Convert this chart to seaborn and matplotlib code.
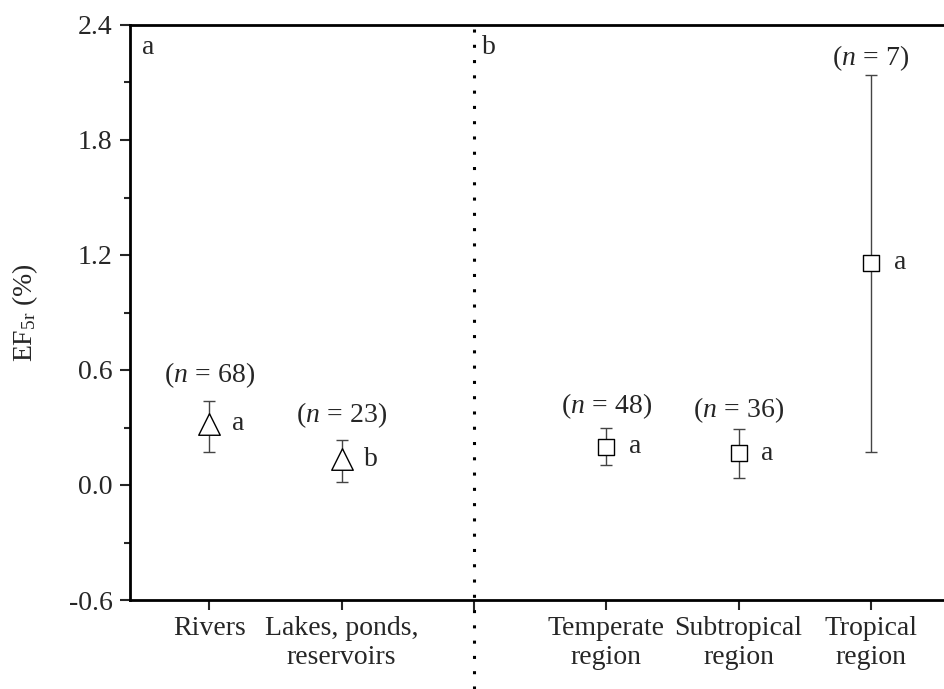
import matplotlib
matplotlib.use("Agg")
import matplotlib.pyplot as plt
import seaborn as sns
import pandas as pd
import numpy as np

# ---- data ----
order = ["Rivers", "Lakes, ponds,\nreservoirs", "",
         "Temperate\nregion", "Subtropical\nregion", "Tropical\nregion"]
categories = ["Rivers", "Lakes, ponds,\nreservoirs",
              "Temperate\nregion", "Subtropical\nregion", "Tropical\nregion"]
groups = ["water", "water", "climate", "climate", "climate"]
means = [0.32, 0.135, 0.20, 0.165, 1.16]
lower = [0.17, 0.015, 0.105, 0.035, 0.17]
upper = [0.44, 0.235, 0.30, 0.29, 2.14]
n_obs = [68, 23, 48, 36, 7]
letters = ["a", "b", "a", "a", "a"]
yticks = [-0.6, 0.0, 0.6, 1.2, 1.8, 2.4]
ytick_labels = ["-0.6", "0.0", "0.6", "1.2", "1.8", "2.4"]

sns.set_style("ticks")
plt.rcParams["font.family"] = ["Liberation Serif", "DejaVu Serif"]
plt.rcParams["mathtext.fontset"] = "custom"
plt.rcParams["mathtext.rm"] = "Liberation Serif"
plt.rcParams["mathtext.it"] = "Liberation Serif:italic"

df = pd.DataFrame({
    "cat": categories,
    "pos": [order.index(c) + 1 for c in categories],
    "group": groups,
    "mean": means,
    "lower": lower,
    "upper": upper,
})

fig = plt.figure(figsize=(9.45, 6.89), dpi=100)
ax = fig.add_axes([130 / 945, 89 / 689, 815 / 945, 575 / 689])

# error bars
yerr = np.array([df["mean"] - df["lower"], df["upper"] - df["mean"]])
ax.errorbar(df["pos"], df["mean"], yerr=yerr, fmt="none", ecolor="#444444",
            elinewidth=1.0, capsize=4.6, capthick=1.0, zorder=2)

# markers
for g, m, ms in [("water", "^", 15.5), ("climate", "s", 12)]:
    sub = df[df["group"] == g]
    sns.scatterplot(x=sub["pos"], y=sub["mean"], marker=m, s=ms ** 2,
                    facecolor="white", edgecolor="black", linewidth=1.0,
                    ax=ax, legend=False, zorder=3)

# annotations
n_offsets = [26, 25, 21, 19, 17]
for i, row in df.iterrows():
    ax.annotate(r"$(\mathit{n}\,=\,%d)$" % n_obs[i], xy=(row["pos"], row["upper"]),
                xytext=(0, n_offsets[i] * 0.72), textcoords="offset points",
                ha="center", va="center", fontsize=20)
    ax.annotate(letters[i], xy=(row["pos"], row["mean"]),
                xytext=(29 * 0.72, 0), textcoords="offset points",
                ha="center", va="center", fontsize=20)

# divider
sep = order.index("") + 1
ax.axvline(sep, ymin=-89 / 575, ymax=1, color="black", lw=2.2,
           linestyle=(0, (1, 4)), clip_on=False, zorder=1)

# panel labels
ax.annotate("a", xy=(0, 1), xycoords="axes fraction", xytext=(9, -7),
            textcoords="offset points", ha="left", va="top", fontsize=20)
ax.annotate("b", xy=(sep, 2.4), xycoords="data", xytext=(6, -7),
            textcoords="offset points", ha="left", va="top", fontsize=20)

ax.set_xlim(0.40, 6.56)
ax.set_ylim(-0.6, 2.4)
ax.set_xticks(range(1, len(order) + 1))
ax.set_xticklabels(order, fontsize=20)
ax.set_yticks(yticks)
ax.set_yticklabels(ytick_labels, fontsize=20)
ax.set_yticks(np.arange(-0.3, 2.4, 0.6), minor=True)
ax.tick_params(axis="y", which="major", length=7.5, width=1.5, direction="out", pad=5)
ax.tick_params(axis="y", which="minor", length=4.5, width=1.5, direction="out")
ax.tick_params(axis="x", which="major", length=7.5, width=1.5, direction="out", pad=4)

ax.set_xlabel("")
ax.set_ylabel(r"EF$_{\mathrm{5r}}$ (%)", fontsize=20)
ax.yaxis.set_label_coords(-0.11, 0.5)

for s in ["left", "bottom", "top"]:
    ax.spines[s].set_linewidth(2.0)
    ax.spines[s].set_color("black")
ax.spines["right"].set_visible(False)

fig.savefig("out.png", dpi=100)
